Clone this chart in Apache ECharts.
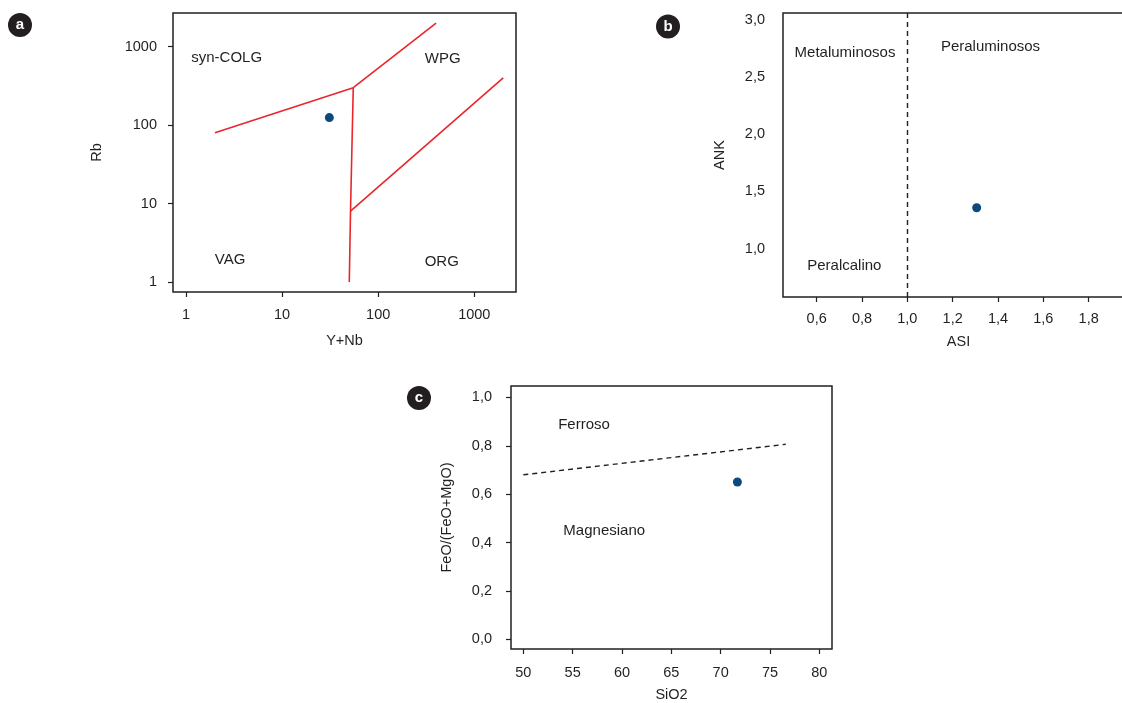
<!DOCTYPE html>
<html>
<head>
<meta charset="utf-8">
<script src="https://cdn.jsdelivr.net/npm/echarts@6/dist/echarts.min.js"></script>
<style>
  html, body { margin: 0; padding: 0; background: #ffffff; }
  #chart { width: 1122px; height: 703px; }
</style>
</head>
<body>
<div id="chart"></div>
<script>
// ---------- Panel a: Rb vs Y+Nb tectonic discrimination ----------
const ynbTicks = [1, 10, 100, 1000];
const rbTicks = [1, 10, 100, 1000];
const colgVagBoundary = [[2, 80], [55, 300]];
const wpgColgBoundary = [[55, 300], [400, 2000]];
const vagOrgBoundary = [[55, 300], [51.5, 8], [50, 1]];
const wpgOrgBoundary = [[51.5, 8], [2000, 400]];
const sampleRb = [[31, 125]];
const fieldNamesA = ['syn-COLG', 'WPG', 'VAG', 'ORG'];
const fieldAnchorsA = [[2.65, 730], [469, 710], [2.87, 1.91], [458, 1.81]];

// ---------- Panel b: ANK vs ASI ----------
const asiTicks = [0.6, 0.8, 1.0, 1.2, 1.4, 1.6, 1.8];
const ankTicks = [1.0, 1.5, 2.0, 2.5, 3.0];
const asiDivide = 1.0;
const sampleAsi = [[1.306, 1.356]];
const fieldNamesB = ['Metaluminosos', 'Peraluminosos', 'Peralcalino'];
const fieldAnchorsB = [[0.725, 2.708], [1.367, 2.76], [0.722, 0.845]];

// ---------- Panel c: FeO/(FeO+MgO) vs SiO2 ----------
const sio2Ticks = [50, 55, 60, 65, 70, 75, 80];
const feNumTicks = [0.0, 0.2, 0.4, 0.6, 0.8, 1.0];
const ferroanBoundary = [[50, 0.680], [76.6, 0.806]];
const sampleFe = [[71.7, 0.650]];
const fieldNamesC = ['Ferroso', 'Magnesiano'];
const fieldAnchorsC = [[56.15, 0.888], [58.2, 0.448]];

// ---------- styling ----------
const INK = '#231f20';
const RED = '#e8262b';
const DOT = '#0b4a7e';
const FONT = '"Liberation Sans", Arial, Helvetica, sans-serif';

const commaDecimal = v => v.toFixed(1).replace('.', ',');

function frame(left, top, width, height) {
  return {
    left: left, top: top, width: width, height: height,
    show: true, borderColor: INK, borderWidth: 1.5,
    backgroundColor: 'transparent', containLabel: false,
    outerBoundsMode: 'none'
  };
}

function axis(opts) {
  const ticks = opts.ticks;
  return {
    gridIndex: opts.grid,
    type: opts.type || 'value',
    min: opts.min, max: opts.max,
    name: opts.name, nameLocation: 'middle', nameGap: opts.nameGap,
    nameTextStyle: { color: INK, fontSize: 14.5, fontFamily: FONT },
    axisLine: { show: false, onZero: false },
    splitLine: { show: false },
    minorTick: { show: false },
    axisTick: {
      show: opts.tickShow !== false, inside: false, length: 5,
      customValues: ticks,
      lineStyle: { color: INK, width: 1.2 }
    },
    axisLabel: {
      customValues: ticks, margin: opts.margin,
      color: INK, fontSize: 14.5, fontFamily: FONT,
      formatter: opts.fmt
    }
  };
}

function regionLabels(names, anchors, xi, yi) {
  return {
    type: 'scatter', xAxisIndex: xi, yAxisIndex: yi,
    symbol: 'circle', symbolSize: 1, silent: true, z: 5,
    itemStyle: { color: 'rgba(255,255,255,0)', opacity: 1 },
    label: {
      show: true, position: 'inside', formatter: p => p.name,
      color: INK, fontSize: 15, fontFamily: FONT,
      textBorderWidth: 0, opacity: 1
    },
    data: names.map((n, i) => ({ name: n, value: anchors[i] }))
  };
}

function boundary(points, xi, yi, dashed) {
  return {
    type: 'line', xAxisIndex: xi, yAxisIndex: yi,
    data: points, showSymbol: false, symbol: 'none', silent: true,
    lineStyle: dashed
      ? { color: INK, width: 1.4, type: [5, 4] }
      : { color: RED, width: 1.6 },
    z: 3
  };
}

function sample(points, xi, yi) {
  return {
    type: 'scatter', xAxisIndex: xi, yAxisIndex: yi,
    data: points, symbol: 'circle', symbolSize: 9,
    itemStyle: { color: DOT, opacity: 1 }, z: 6
  };
}

function badge(letter, cx, cy) {
  return {
    type: 'group', x: cx, y: cy,
    children: [
      { type: 'circle', shape: { cx: 0, cy: 0, r: 12 }, style: { fill: INK } },
      { type: 'text', x: 0, y: 0,
        style: { text: letter, fill: '#ffffff', font: 'bold 15px ' + FONT,
                 textAlign: 'center', textVerticalAlign: 'middle' } }
    ]
  };
}

const chart = echarts.init(document.getElementById('chart'), null, { renderer: 'canvas' });

chart.setOption({
  animation: false,
  backgroundColor: '#ffffff',
  textStyle: { fontFamily: FONT },
  grid: [
    frame(173, 13, 343, 279),
    frame(783, 13, 351, 284),
    frame(511, 386, 321, 263)
  ],
  xAxis: [
    axis({ grid: 0, type: 'log', min: 0.732, max: 2716, ticks: ynbTicks,
           name: 'Y+Nb', nameGap: 41, margin: 15, fmt: v => String(v) }),
    axis({ grid: 1, min: 0.4515, max: 2.0, ticks: asiTicks,
           name: 'ASI', nameGap: 37, margin: 14, fmt: commaDecimal }),
    axis({ grid: 2, min: 48.75, max: 81.29, ticks: sio2Ticks,
           name: 'SiO2', nameGap: 38, margin: 16, fmt: v => String(v) })
  ],
  yAxis: [
    axis({ grid: 0, type: 'log', min: 0.746, max: 2692, ticks: rbTicks,
           name: 'Rb', nameGap: 69, margin: 16, fmt: v => String(v) }),
    axis({ grid: 1, min: 0.576, max: 3.059, ticks: ankTicks, tickShow: false,
           name: 'ANK', nameGap: 56, margin: 18, fmt: commaDecimal }),
    axis({ grid: 2, min: -0.040, max: 1.047, ticks: feNumTicks,
           name: 'FeO/(FeO+MgO)', nameGap: 57, margin: 19, fmt: commaDecimal })
  ],
  series: [
    // panel a
    boundary(colgVagBoundary, 0, 0),
    boundary(wpgColgBoundary, 0, 0),
    boundary(vagOrgBoundary, 0, 0),
    boundary(wpgOrgBoundary, 0, 0),
    regionLabels(fieldNamesA, fieldAnchorsA, 0, 0),
    sample(sampleRb, 0, 0),
    // panel b
    {
      type: 'line', xAxisIndex: 1, yAxisIndex: 1, data: [], silent: true,
      markLine: {
        silent: true, symbol: ['none', 'none'], label: { show: false },
        lineStyle: { color: INK, width: 1.4, type: [5, 4] },
        data: [{ xAxis: asiDivide }]
      }
    },
    regionLabels(fieldNamesB, fieldAnchorsB, 1, 1),
    sample(sampleAsi, 1, 1),
    // panel c
    boundary(ferroanBoundary, 2, 2, true),
    regionLabels(fieldNamesC, fieldAnchorsC, 2, 2),
    sample(sampleFe, 2, 2)
  ],
  graphic: [
    badge('a', 20, 25),
    badge('b', 668, 26.5),
    badge('c', 419, 398)
  ]
});
</script>
</body>
</html>
